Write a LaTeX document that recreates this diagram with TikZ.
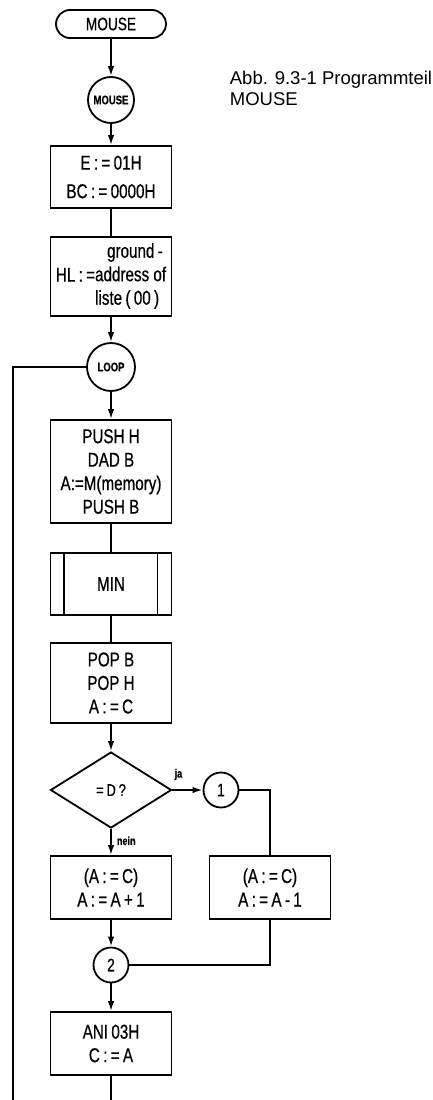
\documentclass[tikz,border=0pt]{standalone}
\usepackage{fontspec}
\setmainfont{Liberation Sans}
\newfontfamily\dinfont[FakeStretch=0.76,FakeBold=0.6]{Liberation Sans}
\usetikzlibrary{shapes.geometric,arrows.meta}

\begin{document}
\begin{tikzpicture}[x=1pt,y=-1pt,line width=1.8pt,
    box/.style={draw,rectangle,minimum width=121pt,inner sep=0pt,align=center,
      font=\dinfont\fontsize{20}{23.5}\selectfont},
    conn/.style={draw,circle,inner sep=0pt,minimum size=35pt,
      font=\dinfont\fontsize{18}{20}\selectfont},
    flow/.style={-{Latex[length=10pt,width=6.5pt]}},
    lbl/.style={inner sep=0pt,font=\dinfont\bfseries\fontsize{12}{14}\selectfont}]
  \useasboundingbox (0,0) rectangle (433,1100);
  % caption
  \node[anchor=north west,align=left,inner sep=0pt,
    font=\fontsize{18.5}{21}\selectfont] (caption) at (229,70) {Abb. 9.3-1 Programmteil\\MOUSE};
  % main column
  \node[draw,rounded corners=14pt,minimum width=110pt,minimum height=28pt,inner sep=0pt,
    font=\dinfont\fontsize{18}{20}\selectfont] (start) at (111,24) {MOUSE};
  \node[conn,minimum size=46pt,font=\dinfont\bfseries\fontsize{12.5}{14}\selectfont] (mouse) at (111,100) {MOUSE};
  \node[box,minimum height=62pt] (init) at (111,177) {E\,:\,=\,01H\\[5pt]BC\,:\,=\,0000H};
  \node[box,minimum height=79pt] (list) at (111,276.5)
    {HL\,:\,=\begin{tabular}[c]{@{}l@{}}\hspace*{12pt}ground\,-\\address of\\liste\,(\,00\,)\end{tabular}};
  \node[conn,minimum size=48pt,font=\dinfont\bfseries\fontsize{12.5}{14}\selectfont] (loop) at (111,367) {LOOP};
  \node[box,minimum height=103pt] (push) at (111,471.5) {PUSH H\\DAD B\\A:=M(memory)\\PUSH B};
  \node[box,minimum height=62pt] (min) at (111,584) {MIN};
  \draw ([xshift=14pt]min.north west) -- ([xshift=14pt]min.south west);
  \draw ([xshift=-15pt]min.north east) -- ([xshift=-15pt]min.south east);
  \node[box,minimum height=80pt] (pop) at (111,683) {POP B\\POP H\\A\,:\,=\,C};
  \node[draw,diamond,minimum width=121pt,minimum height=76pt,inner sep=0pt,
    font=\dinfont\fontsize{17}{20}\selectfont] (test) at (111,790) {=\,D\,?};
  \node[conn] (one) at (221,790) {1};
  \node[box,minimum height=63pt] (inc) at (111,887.5) {(A\,:\,=\,C)\\A\,:\,=\,A\,+\,1};
  \node[box,minimum height=63pt] (dec) at (270,887.5) {(A\,:\,=\,C)\\A\,:\,=\,A\,-\,1};
  \node[conn] (two) at (111,965) {2};
  \node[box,minimum height=63pt] (ani) at (111,1043.5) {ANI\,03H\\C\,:\,=\,A};
  \coordinate (exit) at (111,1100);
  \coordinate (back) at (13,1100);
  % connectors
  \draw[flow] (start) -- (mouse);
  \draw[flow] (mouse) -- (init);
  \draw (init) -- (list);
  \draw[flow] (list) -- (loop);
  \draw[flow] (loop) -- (push);
  \draw (push) -- (min);
  \draw (min) -- (pop);
  \draw[flow] (pop) -- (test);
  \draw[flow] (test) -- node[lbl,above=9pt,pos=0.2] (ja) {ja} (one);
  \draw[flow] (test) -- node[lbl,right=5pt,pos=0.45] (nein) {nein} (inc);
  \draw (one.east) -| (dec.north);
  \draw[flow] (inc) -- (two);
  \draw (dec.south) |- (two.east);
  \draw[flow] (two) -- (ani);
  \draw (ani) -- (exit);
  \draw (back) |- (loop.west);
\end{tikzpicture}
\end{document}
